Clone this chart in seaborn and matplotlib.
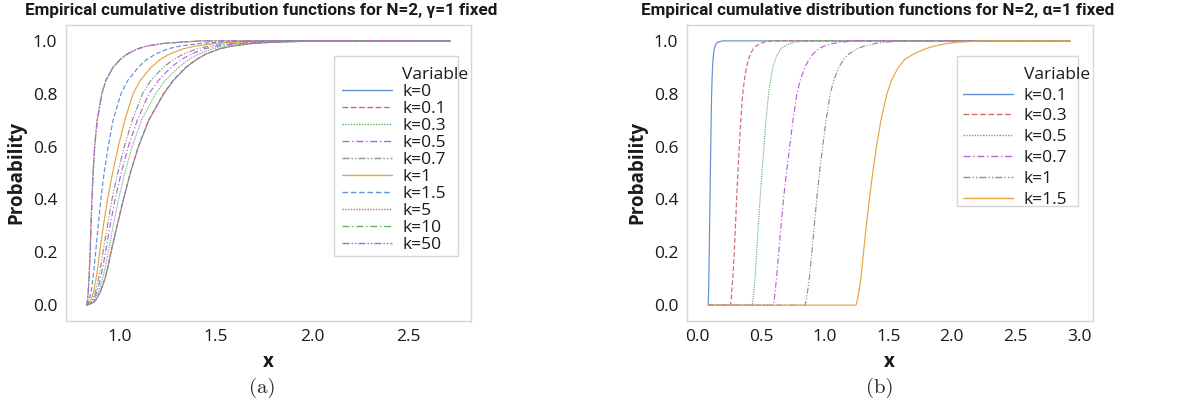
import numpy as np
import pandas as pd
import matplotlib
matplotlib.use("Agg")
import matplotlib.pyplot as plt
from matplotlib.lines import Line2D
from matplotlib.patches import Rectangle
import seaborn as sns

# ---------------- data ----------------
# panel (a): N=2, gamma=1 fixed ; x read at these probability levels
a_p = [0, 0.01, 0.02, 0.05, 0.1, 0.15, 0.2, 0.3, 0.4, 0.5, 0.6, 0.7, 0.8, 0.85,
       0.9, 0.93, 0.95, 0.97, 0.98, 0.99, 0.995, 1.0]
a_xmin = 0.827
a_xmax = 2.72
a_k0  = [0.827, 0.862, 0.875, 0.898, 0.922, 0.939, 0.953, 0.985, 1.018, 1.054, 1.096, 1.150,
         1.228, 1.278, 1.344, 1.400, 1.448, 1.520, 1.583, 1.688, 1.800, 2.050]
a_k01 = [0.827, 0.861, 0.874, 0.897, 0.921, 0.938, 0.952, 0.984, 1.017, 1.053, 1.095, 1.149,
         1.226, 1.276, 1.342, 1.398, 1.446, 1.518, 1.581, 1.686, 1.798, 2.045]
a_k03 = [0.827, 0.856, 0.867, 0.888, 0.909, 0.925, 0.938, 0.964, 0.992, 1.025, 1.063, 1.112,
         1.185, 1.235, 1.305, 1.360, 1.410, 1.480, 1.545, 1.650, 1.760, 2.000]
a_k05 = [0.827, 0.852, 0.862, 0.880, 0.898, 0.912, 0.924, 0.948, 0.974, 1.006, 1.043, 1.090,
         1.150, 1.200, 1.265, 1.320, 1.370, 1.440, 1.505, 1.610, 1.720, 1.940]
a_k07 = [0.827, 0.849, 0.857, 0.872, 0.888, 0.900, 0.911, 0.934, 0.958, 0.988, 1.022, 1.064,
         1.117, 1.160, 1.225, 1.280, 1.330, 1.400, 1.465, 1.570, 1.680, 1.890]
a_k1  = [0.827, 0.843, 0.849, 0.862, 0.875, 0.885, 0.894, 0.913, 0.935, 0.961, 0.991, 1.025,
         1.068, 1.105, 1.162, 1.210, 1.258, 1.330, 1.390, 1.495, 1.600, 1.780]
a_k15 = [0.827, 0.835, 0.839, 0.849, 0.859, 0.866, 0.873, 0.886, 0.900, 0.917, 0.938, 0.964,
         1.005, 1.040, 1.095, 1.140, 1.185, 1.250, 1.310, 1.415, 1.520, 1.680]
a_k5  = [0.827, 0.829, 0.831, 0.834, 0.838, 0.841, 0.844, 0.848, 0.853, 0.859, 0.867, 0.880,
         0.904, 0.925, 0.962, 1.000, 1.035, 1.090, 1.135, 1.220, 1.310, 1.420]
a_k10 = [0.827, 0.829, 0.831, 0.834, 0.838, 0.841, 0.844, 0.849, 0.854, 0.860, 0.868, 0.881,
         0.905, 0.926, 0.964, 1.002, 1.037, 1.092, 1.138, 1.223, 1.313, 1.425]
a_k50 = [0.827, 0.829, 0.831, 0.835, 0.839, 0.842, 0.845, 0.849, 0.854, 0.860, 0.868, 0.882,
         0.906, 0.927, 0.965, 1.003, 1.038, 1.094, 1.140, 1.225, 1.315, 1.428]
a_labels = ["k=0", "k=0.1", "k=0.3", "k=0.5", "k=0.7", "k=1", "k=1.5", "k=5", "k=10", "k=50"]
a_series = [a_k0, a_k01, a_k03, a_k05, a_k07, a_k1, a_k15, a_k5, a_k10, a_k50]

# panel (b): N=2, alpha=1 fixed
b_p = [0, 0.02, 0.05, 0.1, 0.2, 0.3, 0.4, 0.5, 0.6, 0.7, 0.8, 0.85, 0.9, 0.93, 0.95,
       0.97, 0.98, 0.99, 0.995, 1.0]
b_xmin = 0.086
b_xmax = 2.93
b_k01 = [0.086, 0.087, 0.089, 0.091, 0.094, 0.097, 0.100, 0.103, 0.106, 0.109, 0.113, 0.116,
         0.120, 0.124, 0.128, 0.134, 0.139, 0.150, 0.162, 0.200]
b_k03 = [0.262, 0.266, 0.271, 0.279, 0.291, 0.300, 0.309, 0.319, 0.330, 0.342, 0.357, 0.370,
         0.386, 0.402, 0.418, 0.440, 0.460, 0.495, 0.525, 0.580]
b_k05 = [0.432, 0.437, 0.444, 0.454, 0.467, 0.480, 0.493, 0.508, 0.524, 0.540, 0.560, 0.575,
         0.594, 0.613, 0.632, 0.660, 0.685, 0.730, 0.770, 0.840]
b_k07 = [0.597, 0.604, 0.612, 0.622, 0.640, 0.658, 0.677, 0.700, 0.726, 0.752, 0.783, 0.808,
         0.845, 0.878, 0.908, 0.955, 0.995, 1.065, 1.130, 1.240]
b_k1  = [0.846, 0.856, 0.866, 0.880, 0.900, 0.919, 0.938, 0.960, 0.985, 1.012, 1.045, 1.072,
         1.112, 1.150, 1.190, 1.255, 1.310, 1.400, 1.480, 1.600]
b_k15 = [1.247, 1.258, 1.270, 1.285, 1.306, 1.328, 1.352, 1.378, 1.408, 1.443, 1.490, 1.525,
         1.580, 1.630, 1.700, 1.790, 1.860, 1.960, 2.050, 2.250]
b_labels = ["k=0.1", "k=0.3", "k=0.5", "k=0.7", "k=1", "k=1.5"]
b_series = [b_k01, b_k03, b_k05, b_k07, b_k1, b_k15]

# ---------------- styling ----------------
sns.set_theme(style="white")
plt.rcParams["font.family"] = ["Open Sans", "DejaVu Sans"]

col_cycle = ["#5f93d3", "#cf6b6b", "#5cb566", "#b862e0", "#8f8f8f", "#e8a444"]
dash_cycle = ["", (4, 2), (1, 1), (5, 2, 1, 2), (5, 1.5, 1, 1.5, 1, 1.5)]
TXT = "#1a1a1a"


def build_df(labels, series, plev, xmin, xmax):
    rows = []
    for lab, xs in zip(labels, series):
        xx = [xmin] + list(xs) + [xmax]
        pp = [0.0] + list(plev) + [1.0]
        for x, p in zip(xx, pp):
            rows.append({"x": x, "Probability": p, "Variable": lab})
    return pd.DataFrame(rows)


def draw(ax, labels, series, plev, xmin, xmax, xlim, xticks, title, labelspacing, title_x):
    df = build_df(labels, series, plev, xmin, xmax)
    pal = {lab: col_cycle[i % 6] for i, lab in enumerate(labels)}
    dashes = {lab: dash_cycle[i % 5] for i, lab in enumerate(labels)}
    sns.lineplot(data=df, x="x", y="Probability", hue="Variable", style="Variable",
                 palette=pal, dashes=dashes, sort=False, estimator=None,
                 linewidth=0.85, ax=ax, legend=False)
    ax.set_xlim(*xlim)
    ax.set_ylim(-0.06, 1.06)
    ax.set_xticks(xticks)
    ax.set_xticklabels([f"{t:.1f}" for t in xticks])
    ax.set_yticks([0, 0.2, 0.4, 0.6, 0.8, 1.0])
    ax.set_yticklabels(["0.0", "0.2", "0.4", "0.6", "0.8", "1.0"])
    for s in ax.spines.values():
        s.set_color("#d6d6d6")
        s.set_linewidth(1.0)
    ax.tick_params(axis="both", colors="#d6d6d6", length=3, width=0.8,
                   labelcolor=TXT, labelsize=12.5, pad=3)
    ax.set_xlabel("x", fontsize=13.5, fontweight="bold", color=TXT, labelpad=5)
    ax.set_ylabel("Probability", fontsize=13.5, fontweight="bold", color=TXT, labelpad=5)
    ax.set_title(title, fontsize=12.3, fontweight="bold", color=TXT, pad=7, x=title_x,
                 family=["Roboto", "DejaVu Sans"])

    handles = [Line2D([], [], color="none")]
    for i, lab in enumerate(labels):
        d = dash_cycle[i % 5]
        h = Line2D([], [], color=pal[lab], linewidth=1.0)
        if d:
            h.set_dashes(d)
        handles.append(h)
    leg = ax.legend(handles, ["Variable"] + labels, loc="upper left",
                    bbox_to_anchor=(0.668, 0.877), frameon=False, fontsize=12.5,
                    handlelength=2.9, handletextpad=0.6, labelspacing=labelspacing,
                    borderaxespad=0.0, borderpad=0.3)
    for t in leg.get_texts():
        t.set_color(TXT)
    return leg


fig = plt.figure(figsize=(11.86, 4.12), dpi=100)
ax1 = fig.add_axes([0.0554, 0.2209, 0.3417, 0.7184])
ax2 = fig.add_axes([0.5790, 0.2209, 0.3423, 0.7184])

draw(ax1, a_labels, a_series, a_p, a_xmin, a_xmax, (0.717, 2.828),
     [1.0, 1.5, 2.0, 2.5],
     "Empirical cumulative distribution functions for N=2, \u03b3=1 fixed", 0.05, 0.483)
draw(ax2, b_labels, b_series, b_p, b_xmin, b_xmax, (-0.083, 3.106),
     [0.0, 0.5, 1.0, 1.5, 2.0, 2.5, 3.0],
     "Empirical cumulative distribution functions for N=2, \u03b1=1 fixed", 0.27, 0.471)

# legend frames (Minitab style boxes)
ax1.add_patch(Rectangle((0.662, 0.2196), 0.306, 0.676, transform=ax1.transAxes,
                        fill=False, edgecolor="#d6d6d6", linewidth=1.0, zorder=5))
ax2.add_patch(Rectangle((0.665, 0.3895), 0.299, 0.506, transform=ax2.transAxes,
                        fill=False, edgecolor="#d6d6d6", linewidth=1.0, zorder=5))

fig.text(262 / 1186, 1 - 388 / 412, "(a)", ha="center", va="center",
         fontsize=15, family="cmr10")
fig.text(880 / 1186, 1 - 388 / 412, "(b)", ha="center", va="center",
         fontsize=15, family="cmr10")

fig.savefig("out.png", dpi=100, facecolor="white")
